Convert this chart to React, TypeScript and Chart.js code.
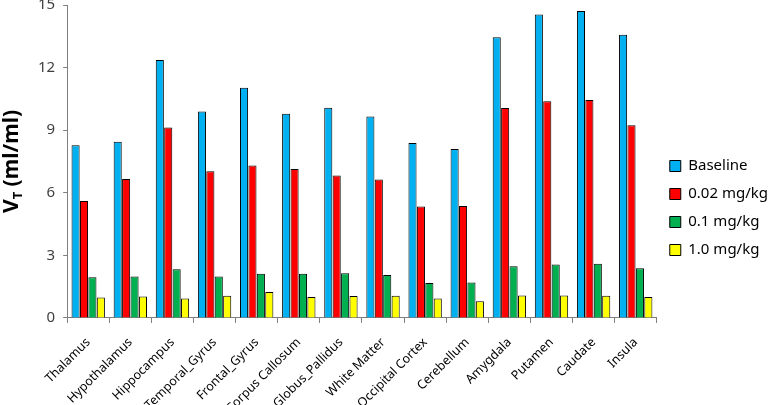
import React, { useEffect, useRef } from "react";
import { Chart, registerables } from "chart.js";

Chart.register(...registerables);

const categories = [
  "Thalamus", "Hypothalamus", "Hippocampus", "Temporal_Gyrus", "Frontal_Gyrus",
  "Corpus Callosum", "Globus_Pallidus", "White Matter", "Occipital Cortex",
  "Cerebellum", "Amygdala", "Putamen", "Caudate", "Insula",
];
const baseline = [8.28, 8.44, 12.36, 9.9, 11.03, 9.79, 10.08, 9.66, 8.38, 8.1, 13.46, 14.55, 14.71, 13.57];
const dose002 = [5.61, 6.66, 9.13, 7.03, 7.31, 7.14, 6.83, 6.64, 5.34, 5.37, 10.06, 10.39, 10.45, 9.24];
const dose01 = [1.95, 1.99, 2.33, 1.99, 2.12, 2.12, 2.14, 2.06, 1.67, 1.7, 2.48, 2.56, 2.6, 2.38];
const dose10 = [0.98, 1.03, 0.93, 1.06, 1.25, 1.01, 1.05, 1.06, 0.93, 0.8, 1.08, 1.08, 1.06, 1.01];
const seriesLabels = ["Baseline", "0.02 mg/kg", "0.1 mg/kg", "1.0 mg/kg"];
const seriesColors = ["#00B0F0", "#FF0000", "#00B050", "#FFFF00"];
const yTicks = [0, 3, 6, 9, 12, 15];

const FONT = '"Noto Sans", "Open Sans", sans-serif';

const yTitlePlugin = {
  id: "yTitle",
  afterDraw(chart: any) {
    const ctx = chart.ctx as CanvasRenderingContext2D;
    const area = chart.chartArea;
    ctx.save();
    ctx.translate(18, (area.top + area.bottom) / 2);
    ctx.rotate(-Math.PI / 2);
    ctx.fillStyle = "#000";
    ctx.textBaseline = "alphabetic";
    ctx.textAlign = "left";
    const big = `bold 21px ${FONT}`;
    const small = `bold 13px ${FONT}`;
    ctx.font = big;
    const wV = ctx.measureText("V").width;
    const wRest = ctx.measureText(" (ml/ml)").width;
    ctx.font = small;
    const wT = ctx.measureText("T").width;
    const total = wV + wT + wRest;
    let x = -total / 2;
    ctx.font = big;
    ctx.fillText("V", x, 0);
    x += wV;
    ctx.font = small;
    ctx.fillText("T", x, 4);
    x += wT;
    ctx.font = big;
    ctx.fillText(" (ml/ml)", x, 0);
    ctx.restore();
  },
};

export default function App() {
  const ref = useRef<HTMLCanvasElement>(null);
  useEffect(() => {
    if (!ref.current) return;
    const values = [baseline, dose002, dose01, dose10];
    const chart = new Chart(ref.current, {
      type: "bar",
      data: {
        labels: categories,
        datasets: values.map((v, i) => ({
          label: seriesLabels[i],
          data: v,
          backgroundColor: seriesColors[i],
          borderColor: "#000",
          borderWidth: 1,
          categoryPercentage: 0.8,
          barPercentage: 0.96,
        })),
      },
      options: {
        animation: false,
        responsive: true,
        maintainAspectRatio: false,
        layout: { padding: { left: 30, top: 0, right: 0, bottom: 0 } },
        plugins: {
          legend: {
            position: "right",
            align: "center",
            labels: {
              boxWidth: 11,
              boxHeight: 11,
              padding: 13,
              color: "#000",
              font: { family: FONT, size: 15 },
            },
          },
          tooltip: { enabled: false },
        },
        scales: {
          x: {
            offset: true,
            grid: {
              offset: true,
              drawOnChartArea: false,
              drawTicks: true,
              tickLength: 5,
              color: "#7f7f7f",
            },
            border: { color: "#7f7f7f", width: 1 },
            ticks: {
              autoSkip: false,
              maxRotation: 45,
              minRotation: 45,
              color: "#000",
              padding: 12,
              font: { family: FONT, size: 12.5 },
            },
          },
          y: {
            min: 0,
            max: 15,
            afterBuildTicks: (axis: any) => {
              axis.ticks = yTicks.map((v) => ({ value: v }));
            },
            grid: {
              drawOnChartArea: false,
              drawTicks: true,
              tickLength: 4,
              color: "#7f7f7f",
            },
            border: { color: "#7f7f7f", width: 1 },
            ticks: {
              color: "#404040",
              padding: 8,
              font: { family: FONT, size: 15 },
            },
          },
        },
      },
      plugins: [yTitlePlugin],
    });
    return () => chart.destroy();
  }, []);
  return (
    <div style={{ position: "fixed", left: 0, top: -12, width: 778, height: 440, background: "#fff" }}>
      <canvas ref={ref} />
    </div>
  );
}
